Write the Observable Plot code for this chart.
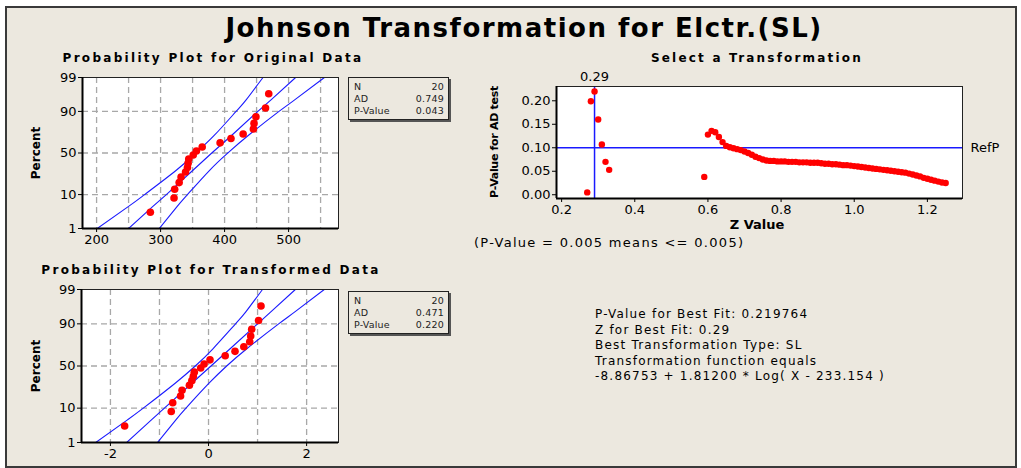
<!DOCTYPE html>
<html>
<head>
<meta charset="utf-8">
<script src="https://cdn.jsdelivr.net/npm/d3@7"></script>
<script src="https://cdn.jsdelivr.net/npm/@observablehq/plot@0.6"></script>
<style>
  html, body { margin: 0; padding: 0; background: #ffffff; }
  #root { position: relative; width: 1021px; height: 468px; overflow: hidden; background: #ffffff; font-family: "DejaVu Sans", sans-serif; }
  #panel { position: absolute; left: 5px; top: 6px; width: 1008px; height: 458px; background: #ece8df; border: 2px solid #3a3a3a; }
  .lbl { position: absolute; white-space: nowrap; color: #000; }
  .c { transform: translate(-50%, -50%); }
  .l { transform: translate(0, -50%); }
  .rot { transform: translate(-50%, -50%) rotate(-90deg); }
  .box { position: absolute; background: #ece8df; border: 1px solid #222; box-shadow: 2px 2px 0 #555; font-size: 9.5px; line-height: 12px; padding: 3px 4px 2px 5px; color: #222; letter-spacing: 0.2px; }
  .box div { display: flex; justify-content: space-between; }
  svg { position: absolute; }
</style>
</head>
<body>
<div id="root"><div id="panel"></div></div>
<script>
// ---------------- data ----------------
const plotPercent = [3.4, 8.3, 13.2, 18.1, 23.0, 27.9, 32.8, 37.7, 42.6, 47.5, 52.5, 57.4, 62.3, 67.2, 72.1, 77.0, 81.9, 86.8, 91.7, 96.6];
const origValues  = [284, 321, 322, 329, 332, 339, 342, 343, 344, 351, 356, 365, 393, 410, 429, 445, 446, 449, 464, 469];
const transValues = [-1.71, -0.76, -0.73, -0.57, -0.54, -0.39, -0.34, -0.31, -0.29, -0.16, -0.09, 0.03, 0.34, 0.54, 0.72, 0.84, 0.86, 0.88, 1.02, 1.07];

const bandPercent = [1, 5, 10, 30, 50, 70, 90, 95, 99];
const origFit   = [250, 288, 309, 351, 380, 410, 452, 473, 511];
const origLower = [201, 250, 275, 325, 355, 383, 418, 434, 460];
const origUpper = [298, 326, 342, 377, 405, 436, 485, 510, 556];
const transFit   = [-1.67, -1.17, -0.90, -0.34, 0.05, 0.44, 1.00, 1.27, 1.77];
const transLower = [-2.30, -1.66, -1.33, -0.68, -0.27, 0.09, 0.55, 0.76, 1.10];
const transUpper = [-1.04, -0.67, -0.46, 0.01, 0.37, 0.78, 1.43, 1.76, 2.36];

const percentTicks = [1, 10, 50, 90, 99];
const origXTicks = [200, 300, 400, 500];
const origXGrid = [200, 250, 300, 350, 400, 450, 500, 550];
const transXTicks = [-2, 0, 2];
const transXGrid = [-2, -1, 0, 1, 2];

const zValues = [0.27, 0.28, 0.29, 0.30, 0.31, 0.32, 0.33, 0.59,
  0.60, 0.61, 0.62, 0.63, 0.64, 0.65, 0.66, 0.67, 0.68, 0.69,
  0.70, 0.71, 0.72, 0.73, 0.74, 0.75, 0.76, 0.77, 0.78, 0.79,
  0.80, 0.81, 0.82, 0.83, 0.84, 0.85, 0.86, 0.87, 0.88, 0.89,
  0.90, 0.91, 0.92, 0.93, 0.94, 0.95, 0.96, 0.97, 0.98, 0.99,
  1.00, 1.01, 1.02, 1.03, 1.04, 1.05, 1.06, 1.07, 1.08, 1.09,
  1.10, 1.11, 1.12, 1.13, 1.14, 1.15, 1.16, 1.17, 1.18, 1.19,
  1.20, 1.21, 1.22, 1.23, 1.24, 1.25];
const pValues = [0.005, 0.199, 0.2198, 0.160, 0.107, 0.070, 0.053, 0.038,
  0.128, 0.136, 0.133, 0.123, 0.112, 0.104, 0.101, 0.099, 0.097, 0.095,
  0.092, 0.089, 0.085, 0.081, 0.078, 0.075, 0.073, 0.072, 0.072, 0.071,
  0.071, 0.071, 0.070, 0.070, 0.070, 0.069, 0.069, 0.069, 0.068, 0.068,
  0.068, 0.067, 0.066, 0.066, 0.065, 0.065, 0.064, 0.063, 0.063, 0.062,
  0.061, 0.060, 0.059, 0.058, 0.057, 0.056, 0.055, 0.054, 0.053, 0.052,
  0.051, 0.050, 0.049, 0.048, 0.047, 0.045, 0.043, 0.041, 0.039, 0.036,
  0.034, 0.032, 0.030, 0.028, 0.026, 0.025];
const bestZ = 0.29;
const refP = 0.10;

// ---------------- helpers ----------------
function probit(p) {
  const a = [-3.969683028665376e+01, 2.209460984245205e+02, -2.759285104469687e+02, 1.383577518672690e+02, -3.066479806614716e+01, 2.506628277459239e+00];
  const b = [-5.447609879822406e+01, 1.615858368580409e+02, -1.556989798598866e+02, 6.680131188771972e+01, -1.328068155288572e+01];
  const c = [-7.784894002486138e-03, -3.223964580411365e-01, -2.400758276362400e+00, -2.549732539343734e+00, 4.374664141464968e+00, 2.938163982698783e+00];
  const d = [7.784695709041462e-03, 3.224671290700398e-01, 2.445134137142996e+00, 3.754408661907416e+00];
  const plow = 0.02425;
  let q, r;
  if (p < plow) {
    q = Math.sqrt(-2 * Math.log(p));
    return (((((c[0]*q+c[1])*q+c[2])*q+c[3])*q+c[4])*q+c[5]) / ((((d[0]*q+d[1])*q+d[2])*q+d[3])*q+1);
  } else if (p <= 1 - plow) {
    q = p - 0.5; r = q*q;
    return (((((a[0]*r+a[1])*r+a[2])*r+a[3])*r+a[4])*r+a[5])*q / (((((b[0]*r+b[1])*r+b[2])*r+b[3])*r+b[4])*r+1);
  } else {
    q = Math.sqrt(-2 * Math.log(1 - p));
    return -(((((c[0]*q+c[1])*q+c[2])*q+c[3])*q+c[4])*q+c[5]) / ((((d[0]*q+d[1])*q+d[2])*q+d[3])*q+1);
  }
}
const zOf = pct => probit(pct / 100);

const root = document.getElementById("root");
function label(text, x, y, cls, style) {
  const el = document.createElement("div");
  el.className = "lbl " + cls;
  el.textContent = text;
  el.style.left = x + "px";
  el.style.top = y + "px";
  Object.assign(el.style, style || {});
  root.appendChild(el);
  return el;
}
function place(svg, left, top) {
  svg.style.left = left + "px";
  svg.style.top = top + "px";
  root.appendChild(svg);
}

const baseStyle = {fontFamily: "DejaVu Sans, sans-serif", fontSize: "12px", background: "transparent", color: "#000", overflow: "visible"};

function probPlot(values, fit, lower, upper, xDomain, xTicks, xGrid, left, top, margins) {
  const pts = values.map((v, i) => ({v, z: zOf(plotPercent[i])}));
  const band = bandPercent.map((p, i) => ({z: zOf(p), fit: fit[i], lo: lower[i], hi: upper[i]}));
  const yTicks = percentTicks.map(zOf);
  const svg = Plot.plot({
    width: 345, height: 200,
    ...margins,
    style: baseStyle,
    x: {domain: xDomain},
    y: {domain: [zOf(1), zOf(99)]},
    marks: [
      Plot.frame({fill: "white", stroke: "none"}),
      Plot.gridX(xGrid, {stroke: "#a8a8a8", strokeOpacity: 1, strokeWidth: 1.3, strokeDasharray: "6,4"}),
      Plot.gridY([10, 50, 90].map(zOf), {stroke: "#a8a8a8", strokeOpacity: 1, strokeWidth: 1.3, strokeDasharray: "6,4"}),
      Plot.line(band, {x: "lo", y: "z", stroke: "#1a1aff", strokeWidth: 1.1, curve: "natural", clip: true}),
      Plot.line(band, {x: "fit", y: "z", stroke: "#1a1aff", strokeWidth: 1.1, curve: "linear", clip: true}),
      Plot.line(band, {x: "hi", y: "z", stroke: "#1a1aff", strokeWidth: 1.1, curve: "natural", clip: true}),
      Plot.dot(pts, {x: "v", y: "z", r: 3.8, fill: "#ff0000", stroke: "none"}),
      Plot.frame({stroke: "#222", strokeWidth: 1}),
      Plot.axisX({ticks: xTicks, tickFormat: d => String(d), tickSize: 4, tickPadding: 2, label: null, fontSize: 13}),
      Plot.axisY({ticks: yTicks, tickFormat: (d, i) => String(percentTicks[i]), tickSize: 4, tickPadding: 2, label: null, fontSize: 13}),
      Plot.ruleX([xDomain[0]], {stroke: "#000", strokeWidth: 2}),
      Plot.ruleY([zOf(1)], {stroke: "#000", strokeWidth: 2})
    ]
  });
  place(svg, left, top);
}

// top-left: original data
probPlot(origValues, origFit, origLower, origUpper, [178, 578], origXTicks, origXGrid, 0, 60,
  {marginLeft: 82, marginTop: 17, marginRight: 7, marginBottom: 32});
// bottom-left: transformed data
probPlot(transValues, transFit, transLower, transUpper, [-2.59, 2.65], transXTicks, transXGrid, 0, 272,
  {marginLeft: 81, marginTop: 17, marginRight: 7, marginBottom: 30});

// right: select a transformation
{
  const pts = zValues.map((z, i) => ({z, p: pValues[i]}));
  const svg = Plot.plot({
    width: 545, height: 180,
    marginLeft: 86, marginTop: 26, marginRight: 53, marginBottom: 42,
    style: baseStyle,
    x: {domain: [0.186, 1.296]},
    y: {domain: [-0.008, 0.2304]},
    marks: [
      Plot.frame({fill: "white", stroke: "none"}),
      Plot.ruleY([refP], {stroke: "#1a1aff", strokeWidth: 1.5}),
      Plot.ruleX([bestZ], {stroke: "#1a1aff", strokeWidth: 1.5}),
      Plot.dot(pts, {x: "z", y: "p", r: 3.2, fill: "#ff0000", stroke: "none"}),
      Plot.frame({stroke: "#222", strokeWidth: 1}),
      Plot.text([bestZ], {x: d => d, frameAnchor: "top", dy: -15, text: d => d3.format(".2f")(d), fontSize: 13}),
      Plot.text([refP], {y: d => d, frameAnchor: "right", dx: 8, textAnchor: "start", text: () => "RefP", fontSize: 13}),
      Plot.axisX({ticks: [0.2, 0.4, 0.6, 0.8, 1.0, 1.2], tickFormat: d3.format(".1f"), tickSize: 4, tickPadding: 2, label: null, fontSize: 13}),
      Plot.axisY({ticks: [0, 0.05, 0.10, 0.15, 0.20], tickFormat: d3.format(".2f"), tickSize: 4, tickPadding: 2, label: null, fontSize: 13}),
      Plot.ruleX([0.186], {stroke: "#000", strokeWidth: 2}),
      Plot.ruleY([-0.008], {stroke: "#000", strokeWidth: 2})
    ]
  });
  place(svg, 470, 60);
}

// ---------------- texts ----------------
label("Johnson Transformation for Elctr.(SL)", 524, 28, "c", {fontSize: "26px", fontWeight: "bold", letterSpacing: "1.5px"});
label("Probability Plot for Original Data", 213, 58, "c", {fontSize: "12px", fontWeight: "bold", letterSpacing: "2.3px"});
label("Select a Transformation", 757, 58, "c", {fontSize: "12px", fontWeight: "bold", letterSpacing: "2.2px"});
label("Probability Plot for Transformed Data", 211, 270, "c", {fontSize: "12px", fontWeight: "bold", letterSpacing: "2.3px"});
label("Percent", 36, 153, "rot", {fontSize: "12px", fontWeight: "bold"});
label("Percent", 36, 366, "rot", {fontSize: "12px", fontWeight: "bold"});
label("P-Value for AD test", 494, 142, "rot", {fontSize: "11px", fontWeight: "bold", letterSpacing: "-0.3px"});
label("Z Value", 757, 224, "c", {fontSize: "13px", fontWeight: "bold"});
label("(P-Value = 0.005 means <= 0.005)", 474, 242, "l", {fontSize: "13px", letterSpacing: "1.3px"});

const infoLines = ["P-Value for Best Fit: 0.219764", "Z for Best Fit: 0.29", "Best Transformation Type: SL", "Transformation function equals", "-8.86753 + 1.81200 * Log( X - 233.154 )"];
const infoY = [314, 330, 345, 361, 376];
infoLines.forEach((t, i) => label(t, 595, infoY[i], "l", {fontSize: "12px", letterSpacing: "1.2px"}));

function statBox(left, top, rows) {
  const box = document.createElement("div");
  box.className = "box";
  box.style.left = left + "px";
  box.style.top = top + "px";
  box.style.width = "90px";
  rows.forEach(r => {
    const row = document.createElement("div");
    const a = document.createElement("span"); a.textContent = r[0];
    const b = document.createElement("span"); b.textContent = r[1];
    row.appendChild(a); row.appendChild(b);
    box.appendChild(row);
  });
  root.appendChild(box);
}
const statNames = ["N", "AD", "P-Value"];
const origStats = ["20", "0.749", "0.043"];
const transStats = ["20", "0.471", "0.220"];
statBox(348, 77, statNames.map((n, i) => [n, origStats[i]]));
statBox(348, 291, statNames.map((n, i) => [n, transStats[i]]));
</script>
</body>
</html>
